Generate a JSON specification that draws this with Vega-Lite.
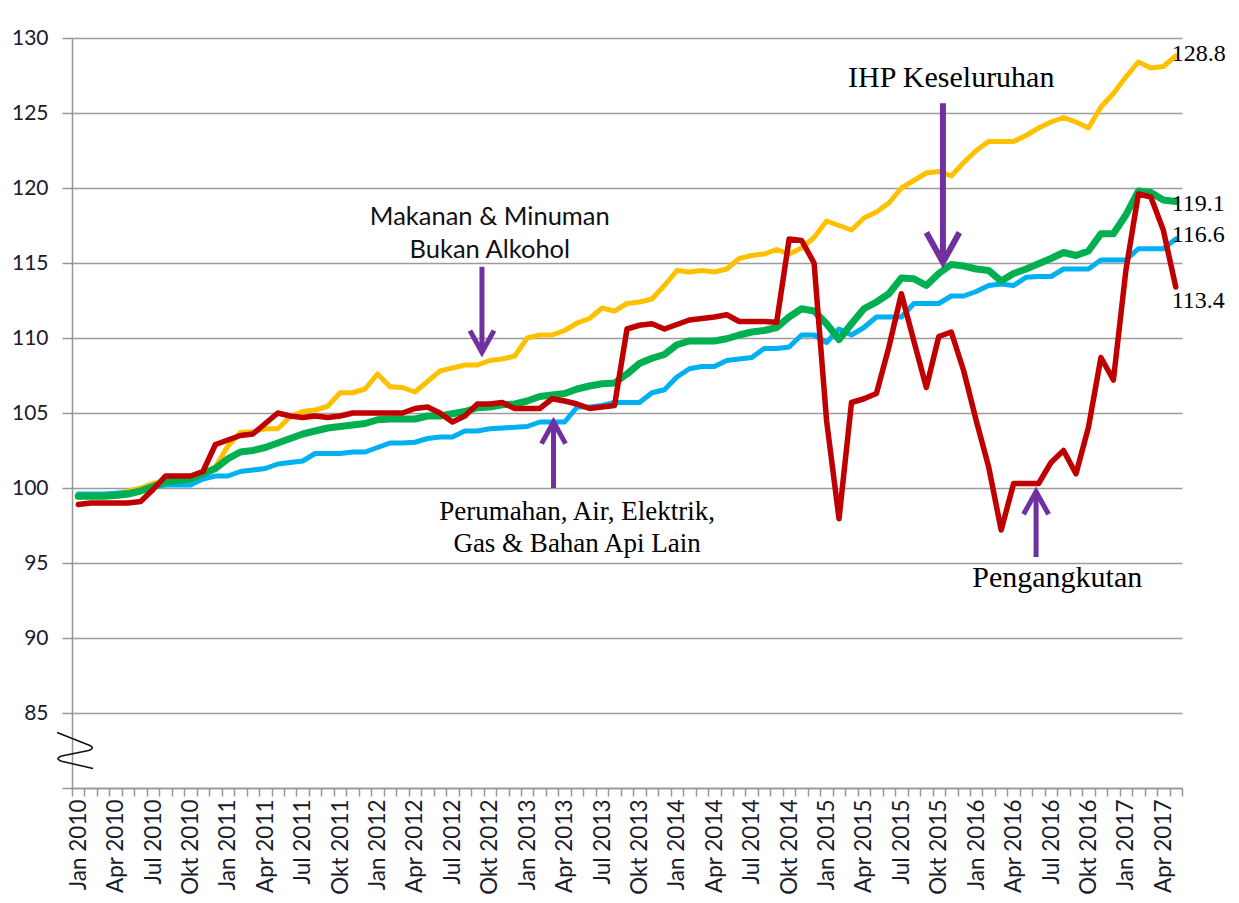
{
  "$schema": "https://vega.github.io/schema/vega-lite/v6.json",
  "width": 1110,
  "height": 750,
  "autosize": {"type": "none"},
  "padding": {"left": 72, "top": 38, "right": 57, "bottom": 115},
  "background": "white",
  "config": {
    "view": {"stroke": null},
    "font": "Lato",
    "line": {"strokeJoin": "round", "strokeCap": "round"}
  },
  "datasets": {
    "ipc": [
      {"month":"Jan 2010","makanan":99.4,"perumahan":99.6,"ihp":99.45,"pengangkutan":98.9},
      {"month":"Feb 2010","makanan":99.5,"perumahan":99.6,"ihp":99.45,"pengangkutan":99.0},
      {"month":"Mac 2010","makanan":99.5,"perumahan":99.6,"ihp":99.45,"pengangkutan":99.0},
      {"month":"Apr 2010","makanan":99.6,"perumahan":99.65,"ihp":99.5,"pengangkutan":99.0},
      {"month":"Mei 2010","makanan":99.8,"perumahan":99.7,"ihp":99.6,"pengangkutan":99.0},
      {"month":"Jun 2010","makanan":100.0,"perumahan":99.8,"ihp":99.8,"pengangkutan":99.1},
      {"month":"Jul 2010","makanan":100.3,"perumahan":100.05,"ihp":100.1,"pengangkutan":99.9},
      {"month":"Ogo 2010","makanan":100.5,"perumahan":100.2,"ihp":100.4,"pengangkutan":100.8},
      {"month":"Sep 2010","makanan":100.6,"perumahan":100.2,"ihp":100.5,"pengangkutan":100.8},
      {"month":"Okt 2010","makanan":100.7,"perumahan":100.2,"ihp":100.6,"pengangkutan":100.8},
      {"month":"Nov 2010","makanan":101.0,"perumahan":100.6,"ihp":100.95,"pengangkutan":101.1},
      {"month":"Dis 2010","makanan":101.4,"perumahan":100.8,"ihp":101.3,"pengangkutan":102.9},
      {"month":"Jan 2011","makanan":102.8,"perumahan":100.8,"ihp":101.95,"pengangkutan":103.2},
      {"month":"Feb 2011","makanan":103.7,"perumahan":101.1,"ihp":102.4,"pengangkutan":103.5},
      {"month":"Mac 2011","makanan":103.75,"perumahan":101.2,"ihp":102.5,"pengangkutan":103.6},
      {"month":"Apr 2011","makanan":103.95,"perumahan":101.3,"ihp":102.7,"pengangkutan":104.3},
      {"month":"Mei 2011","makanan":103.95,"perumahan":101.6,"ihp":103.0,"pengangkutan":105.0},
      {"month":"Jun 2011","makanan":104.75,"perumahan":101.7,"ihp":103.3,"pengangkutan":104.8},
      {"month":"Jul 2011","makanan":105.1,"perumahan":101.8,"ihp":103.6,"pengangkutan":104.7},
      {"month":"Ogo 2011","makanan":105.2,"perumahan":102.3,"ihp":103.8,"pengangkutan":104.8},
      {"month":"Sep 2011","makanan":105.45,"perumahan":102.3,"ihp":104.0,"pengangkutan":104.7},
      {"month":"Okt 2011","makanan":106.35,"perumahan":102.3,"ihp":104.1,"pengangkutan":104.8},
      {"month":"Nov 2011","makanan":106.35,"perumahan":102.4,"ihp":104.2,"pengangkutan":105.0},
      {"month":"Dis 2011","makanan":106.6,"perumahan":102.4,"ihp":104.3,"pengangkutan":105.0},
      {"month":"Jan 2012","makanan":107.6,"perumahan":102.7,"ihp":104.55,"pengangkutan":105.0},
      {"month":"Feb 2012","makanan":106.75,"perumahan":103.0,"ihp":104.6,"pengangkutan":105.0},
      {"month":"Mac 2012","makanan":106.7,"perumahan":103.0,"ihp":104.6,"pengangkutan":105.0},
      {"month":"Apr 2012","makanan":106.4,"perumahan":103.05,"ihp":104.6,"pengangkutan":105.3},
      {"month":"Mei 2012","makanan":107.1,"perumahan":103.3,"ihp":104.8,"pengangkutan":105.4},
      {"month":"Jun 2012","makanan":107.8,"perumahan":103.4,"ihp":104.8,"pengangkutan":105.0},
      {"month":"Jul 2012","makanan":108.0,"perumahan":103.4,"ihp":104.95,"pengangkutan":104.4},
      {"month":"Ogo 2012","makanan":108.2,"perumahan":103.8,"ihp":105.1,"pengangkutan":104.8},
      {"month":"Sep 2012","makanan":108.2,"perumahan":103.8,"ihp":105.35,"pengangkutan":105.6},
      {"month":"Okt 2012","makanan":108.5,"perumahan":103.95,"ihp":105.4,"pengangkutan":105.6},
      {"month":"Nov 2012","makanan":108.6,"perumahan":104.0,"ihp":105.55,"pengangkutan":105.7},
      {"month":"Dis 2012","makanan":108.8,"perumahan":104.05,"ihp":105.6,"pengangkutan":105.3},
      {"month":"Jan 2013","makanan":110.0,"perumahan":104.1,"ihp":105.8,"pengangkutan":105.3},
      {"month":"Feb 2013","makanan":110.2,"perumahan":104.4,"ihp":106.1,"pengangkutan":105.3},
      {"month":"Mac 2013","makanan":110.2,"perumahan":104.4,"ihp":106.2,"pengangkutan":105.95},
      {"month":"Apr 2013","makanan":110.5,"perumahan":104.4,"ihp":106.3,"pengangkutan":105.8},
      {"month":"Mei 2013","makanan":111.0,"perumahan":105.4,"ihp":106.6,"pengangkutan":105.6},
      {"month":"Jun 2013","makanan":111.3,"perumahan":105.4,"ihp":106.8,"pengangkutan":105.3},
      {"month":"Jul 2013","makanan":112.0,"perumahan":105.5,"ihp":106.95,"pengangkutan":105.4},
      {"month":"Ogo 2013","makanan":111.8,"perumahan":105.7,"ihp":107.0,"pengangkutan":105.5},
      {"month":"Sep 2013","makanan":112.3,"perumahan":105.7,"ihp":107.6,"pengangkutan":110.6},
      {"month":"Okt 2013","makanan":112.4,"perumahan":105.7,"ihp":108.3,"pengangkutan":110.85},
      {"month":"Nov 2013","makanan":112.6,"perumahan":106.35,"ihp":108.65,"pengangkutan":110.95},
      {"month":"Dis 2013","makanan":113.5,"perumahan":106.55,"ihp":108.9,"pengangkutan":110.6},
      {"month":"Jan 2014","makanan":114.5,"perumahan":107.4,"ihp":109.55,"pengangkutan":110.9},
      {"month":"Feb 2014","makanan":114.4,"perumahan":107.95,"ihp":109.8,"pengangkutan":111.2},
      {"month":"Mac 2014","makanan":114.5,"perumahan":108.1,"ihp":109.8,"pengangkutan":111.3},
      {"month":"Apr 2014","makanan":114.4,"perumahan":108.1,"ihp":109.8,"pengangkutan":111.4},
      {"month":"Mei 2014","makanan":114.6,"perumahan":108.5,"ihp":109.95,"pengangkutan":111.55},
      {"month":"Jun 2014","makanan":115.3,"perumahan":108.6,"ihp":110.2,"pengangkutan":111.1},
      {"month":"Jul 2014","makanan":115.5,"perumahan":108.7,"ihp":110.4,"pengangkutan":111.1},
      {"month":"Ogo 2014","makanan":115.6,"perumahan":109.3,"ihp":110.5,"pengangkutan":111.1},
      {"month":"Sep 2014","makanan":115.9,"perumahan":109.3,"ihp":110.7,"pengangkutan":111.05},
      {"month":"Okt 2014","makanan":115.6,"perumahan":109.4,"ihp":111.4,"pengangkutan":116.6},
      {"month":"Nov 2014","makanan":116.0,"perumahan":110.2,"ihp":111.95,"pengangkutan":116.5},
      {"month":"Dis 2014","makanan":116.7,"perumahan":110.2,"ihp":111.8,"pengangkutan":115.0},
      {"month":"Jan 2015","makanan":117.8,"perumahan":109.7,"ihp":110.95,"pengangkutan":104.5},
      {"month":"Feb 2015","makanan":117.5,"perumahan":110.6,"ihp":109.9,"pengangkutan":97.95},
      {"month":"Mac 2015","makanan":117.2,"perumahan":110.2,"ihp":110.95,"pengangkutan":105.7},
      {"month":"Apr 2015","makanan":118.0,"perumahan":110.7,"ihp":111.95,"pengangkutan":105.95},
      {"month":"Mei 2015","makanan":118.4,"perumahan":111.4,"ihp":112.4,"pengangkutan":106.3},
      {"month":"Jun 2015","makanan":119.0,"perumahan":111.4,"ihp":112.95,"pengangkutan":109.4},
      {"month":"Jul 2015","makanan":120.0,"perumahan":111.4,"ihp":114.0,"pengangkutan":112.95},
      {"month":"Ogo 2015","makanan":120.5,"perumahan":112.3,"ihp":113.95,"pengangkutan":109.8},
      {"month":"Sep 2015","makanan":121.0,"perumahan":112.3,"ihp":113.5,"pengangkutan":106.7},
      {"month":"Okt 2015","makanan":121.1,"perumahan":112.3,"ihp":114.3,"pengangkutan":110.1},
      {"month":"Nov 2015","makanan":120.8,"perumahan":112.8,"ihp":114.9,"pengangkutan":110.4},
      {"month":"Dis 2015","makanan":121.7,"perumahan":112.8,"ihp":114.8,"pengangkutan":107.8},
      {"month":"Jan 2016","makanan":122.5,"perumahan":113.1,"ihp":114.6,"pengangkutan":104.5},
      {"month":"Feb 2016","makanan":123.1,"perumahan":113.5,"ihp":114.5,"pengangkutan":101.4},
      {"month":"Mac 2016","makanan":123.1,"perumahan":113.6,"ihp":113.8,"pengangkutan":97.2},
      {"month":"Apr 2016","makanan":123.1,"perumahan":113.5,"ihp":114.3,"pengangkutan":100.3},
      {"month":"Mei 2016","makanan":123.5,"perumahan":114.05,"ihp":114.6,"pengangkutan":100.3},
      {"month":"Jun 2016","makanan":124.0,"perumahan":114.1,"ihp":114.95,"pengangkutan":100.3},
      {"month":"Jul 2016","makanan":124.4,"perumahan":114.1,"ihp":115.3,"pengangkutan":101.7},
      {"month":"Ogo 2016","makanan":124.7,"perumahan":114.6,"ihp":115.7,"pengangkutan":102.5},
      {"month":"Sep 2016","makanan":124.4,"perumahan":114.6,"ihp":115.5,"pengangkutan":100.95},
      {"month":"Okt 2016","makanan":124.0,"perumahan":114.6,"ihp":115.8,"pengangkutan":104.05},
      {"month":"Nov 2016","makanan":125.4,"perumahan":115.2,"ihp":116.95,"pengangkutan":108.7},
      {"month":"Dis 2016","makanan":126.3,"perumahan":115.2,"ihp":116.95,"pengangkutan":107.2},
      {"month":"Jan 2017","makanan":127.4,"perumahan":115.2,"ihp":118.2,"pengangkutan":114.5},
      {"month":"Feb 2017","makanan":128.4,"perumahan":115.95,"ihp":119.8,"pengangkutan":119.6},
      {"month":"Mac 2017","makanan":128.0,"perumahan":115.95,"ihp":119.7,"pengangkutan":119.4},
      {"month":"Apr 2017","makanan":128.1,"perumahan":115.95,"ihp":119.2,"pengangkutan":117.2},
      {"month":"Mei 2017","makanan":128.8,"perumahan":116.6,"ihp":119.1,"pengangkutan":113.4}
    ],
    "arrows": [
      {"arrow":"makanan","month":"Sep 2012","from":114.75,"to":109.05},
      {"arrow":"ihp","month":"Okt 2015","from":125.65,"to":115.05},
      {"arrow":"perumahan","month":"Mac 2013","from":100.0,"to":104.4},
      {"arrow":"pengangkutan","month":"Jun 2016","from":95.4,"to":99.75}
    ],
    "notes": [
      {"group":"ihp","month":"Nov 2015","value":127.35,"text":"IHP Keseluruhan"},
      {"group":"makanan","month":"Okt 2012","value":118.05,"text":"Makanan & Minuman"},
      {"group":"makanan","month":"Okt 2012","value":115.85,"text":"Bukan Alkohol"},
      {"group":"perumahan","month":"Mei 2013","value":98.4,"text":"Perumahan, Air, Elektrik,"},
      {"group":"perumahan","month":"Mei 2013","value":96.3,"text":"Gas & Bahan Api Lain"},
      {"group":"pengangkutan","month":"Jul 2016","value":94.0,"text":"Pengangkutan"}
    ],
    "ends": [
      {"month":"Mei 2017","value":128.95,"text":"128.8"},
      {"month":"Mei 2017","value":118.95,"text":"119.1"},
      {"month":"Mei 2017","value":116.85,"text":"116.6"},
      {"month":"Mei 2017","value":112.5,"text":"113.4"}
    ],
    "brk": [
      {"month":"Jan 2010","value":82.5}
    ]
  },
  "encoding": {
    "x": {
      "field": "month",
      "type": "ordinal",
      "title": null,
      "scale": {
        "type": "band",
        "paddingInner": 0,
        "paddingOuter": 0,
        "domain": ["Jan 2010","Feb 2010","Mac 2010","Apr 2010","Mei 2010","Jun 2010","Jul 2010","Ogo 2010","Sep 2010","Okt 2010","Nov 2010","Dis 2010",
                   "Jan 2011","Feb 2011","Mac 2011","Apr 2011","Mei 2011","Jun 2011","Jul 2011","Ogo 2011","Sep 2011","Okt 2011","Nov 2011","Dis 2011",
                   "Jan 2012","Feb 2012","Mac 2012","Apr 2012","Mei 2012","Jun 2012","Jul 2012","Ogo 2012","Sep 2012","Okt 2012","Nov 2012","Dis 2012",
                   "Jan 2013","Feb 2013","Mac 2013","Apr 2013","Mei 2013","Jun 2013","Jul 2013","Ogo 2013","Sep 2013","Okt 2013","Nov 2013","Dis 2013",
                   "Jan 2014","Feb 2014","Mac 2014","Apr 2014","Mei 2014","Jun 2014","Jul 2014","Ogo 2014","Sep 2014","Okt 2014","Nov 2014","Dis 2014",
                   "Jan 2015","Feb 2015","Mac 2015","Apr 2015","Mei 2015","Jun 2015","Jul 2015","Ogo 2015","Sep 2015","Okt 2015","Nov 2015","Dis 2015",
                   "Jan 2016","Feb 2016","Mac 2016","Apr 2016","Mei 2016","Jun 2016","Jul 2016","Ogo 2016","Sep 2016","Okt 2016","Nov 2016","Dis 2016",
                   "Jan 2017","Feb 2017","Mac 2017","Apr 2017","Mei 2017"]
      },
      "axis": {
        "title": null,
        "tickBand": "extent",
        "labelAngle": -90,
        "labelExpr": "isString(datum.value) ? (indexof(['Jan','Apr','Jul','Okt'], substring(datum.value,0,3)) >= 0 ? datum.value : '') : ''",
        "labelOverlap": false,
        "labelFont": "Lato",
        "labelFontSize": 22.5,
        "labelColor": "#1b1b2b",
        "labelPadding": 3,
        "tickColor": "#969696",
        "tickSize": 8,
        "tickWidth": 1.5,
        "domainColor": "#969696",
        "domainWidth": 1.5,
        "grid": false
      }
    }
  },
  "layer": [
    {
      "data": {"name": "ipc"},
      "mark": {"type": "line", "color": "#FFC000", "strokeWidth": 5},
      "encoding": {
        "y": {
          "field": "makanan",
          "type": "quantitative",
          "title": null,
          "scale": {"domain": [80, 130], "nice": false, "zero": false},
          "axis": {
            "title": null,
            "values": [80, 85, 90, 95, 100, 105, 110, 115, 120, 125, 130],
            "labelExpr": "datum.value == 80 ? '' : datum.label",
            "grid": true,
            "gridColor": "#9c9c9c",
            "gridWidth": 1.5,
            "tickColor": "#969696",
            "tickSize": 10,
            "tickWidth": 1.5,
            "domainColor": "#969696",
            "domainWidth": 1.5,
            "labelFont": "Lato",
            "labelFontSize": 21,
            "labelColor": "#1b1b2b",
            "labelPadding": 14
          }
        }
      }
    },
    {
      "data": {"name": "ipc"},
      "mark": {"type": "line", "color": "#00B0F0", "strokeWidth": 5},
      "encoding": {"y": {"field": "perumahan", "type": "quantitative", "title": null}}
    },
    {
      "data": {"name": "ipc"},
      "mark": {"type": "line", "color": "#00B050", "strokeWidth": 7},
      "encoding": {"y": {"field": "ihp", "type": "quantitative", "title": null}}
    },
    {
      "data": {"name": "ipc"},
      "mark": {"type": "line", "color": "#C00000", "strokeWidth": 5.5},
      "encoding": {"y": {"field": "pengangkutan", "type": "quantitative", "title": null}}
    },
    {
      "data": {"name": "arrows"},
      "transform": [{"filter": "datum.arrow === 'makanan'"}],
      "encoding": {"x": {"field": "month", "type": "ordinal", "bandPosition": 0.87}},
      "layer": [
        {"mark": {"type": "rule", "color": "#7030A0", "strokeWidth": 5},
         "encoding": {"y": {"field": "from", "type": "quantitative", "title": null}, "y2": {"field": "to"}}},
        {"mark": {"type": "point", "shape": "M-1,-1.8L0,0L1,-1.8", "size": 576, "filled": false, "stroke": "#7030A0", "strokeWidth": 5, "opacity": 1},
         "encoding": {"y": {"field": "to", "type": "quantitative", "title": null}}}
      ]
    },
    {
      "data": {"name": "arrows"},
      "transform": [{"filter": "datum.arrow === 'ihp'"}],
      "encoding": {"x": {"field": "month", "type": "ordinal", "bandPosition": 0.83}},
      "layer": [
        {"mark": {"type": "rule", "color": "#7030A0", "strokeWidth": 6},
         "encoding": {"y": {"field": "from", "type": "quantitative", "title": null}, "y2": {"field": "to"}}},
        {"mark": {"type": "point", "shape": "M-1,-1.8L0,0L1,-1.8", "size": 1089, "filled": false, "stroke": "#7030A0", "strokeWidth": 6, "opacity": 1},
         "encoding": {"y": {"field": "to", "type": "quantitative", "title": null}}}
      ]
    },
    {
      "data": {"name": "arrows"},
      "transform": [{"filter": "datum.arrow === 'perumahan'"}],
      "encoding": {"x": {"field": "month", "type": "ordinal", "bandPosition": 0.61}},
      "layer": [
        {"mark": {"type": "rule", "color": "#7030A0", "strokeWidth": 5},
         "encoding": {"y": {"field": "from", "type": "quantitative", "title": null}, "y2": {"field": "to"}}},
        {"mark": {"type": "point", "shape": "M-1,1.8L0,0L1,1.8", "size": 576, "filled": false, "stroke": "#7030A0", "strokeWidth": 5, "opacity": 1},
         "encoding": {"y": {"field": "to", "type": "quantitative", "title": null}}}
      ]
    },
    {
      "data": {"name": "arrows"},
      "transform": [{"filter": "datum.arrow === 'pengangkutan'"}],
      "encoding": {"x": {"field": "month", "type": "ordinal", "bandPosition": 0.3}},
      "layer": [
        {"mark": {"type": "rule", "color": "#7030A0", "strokeWidth": 5},
         "encoding": {"y": {"field": "from", "type": "quantitative", "title": null}, "y2": {"field": "to"}}},
        {"mark": {"type": "point", "shape": "M-1,1.8L0,0L1,1.8", "size": 625, "filled": false, "stroke": "#7030A0", "strokeWidth": 5, "opacity": 1},
         "encoding": {"y": {"field": "to", "type": "quantitative", "title": null}}}
      ]
    },
    {
      "data": {"name": "notes"},
      "transform": [{"filter": "datum.group === 'ihp'"}],
      "mark": {"type": "text", "font": "Liberation Serif", "fontSize": 30, "color": "#000000", "align": "center", "baseline": "middle"},
      "encoding": {
        "y": {"field": "value", "type": "quantitative", "title": null},
        "text": {"field": "text"}
      }
    },
    {
      "data": {"name": "notes"},
      "transform": [{"filter": "datum.group === 'pengangkutan'"}],
      "mark": {"type": "text", "font": "Liberation Serif", "fontSize": 30, "color": "#000000", "align": "center", "baseline": "middle"},
      "encoding": {
        "x": {"field": "month", "type": "ordinal", "bandPosition": 1},
        "y": {"field": "value", "type": "quantitative", "title": null},
        "text": {"field": "text"}
      }
    },
    {
      "data": {"name": "notes"},
      "transform": [{"filter": "datum.group === 'perumahan'"}],
      "mark": {"type": "text", "font": "Liberation Serif", "fontSize": 27, "color": "#000000", "align": "center", "baseline": "middle"},
      "encoding": {
        "y": {"field": "value", "type": "quantitative", "title": null},
        "text": {"field": "text"}
      }
    },
    {
      "data": {"name": "notes"},
      "transform": [{"filter": "datum.group === 'makanan'"}],
      "mark": {"type": "text", "font": "Lato", "fontSize": 25.5, "color": "#111111", "align": "center", "baseline": "middle"},
      "encoding": {
        "y": {"field": "value", "type": "quantitative", "title": null},
        "text": {"field": "text"}
      }
    },
    {
      "data": {"name": "ends"},
      "mark": {"type": "text", "font": "Liberation Serif", "fontSize": 24, "color": "#000000", "align": "left", "baseline": "middle", "dx": -4},
      "encoding": {
        "y": {"field": "value", "type": "quantitative", "title": null},
        "text": {"field": "text"}
      }
    },
    {
      "data": {"name": "brk"},
      "mark": {"type": "point", "shape": "M-1,-1 L0.75,-0.3 Q1.15,-0.15 0.75,0 L-0.75,0.3 Q-1.15,0.45 -0.75,0.6 L1,1", "size": 1296, "filled": false, "stroke": "#111111", "strokeWidth": 1.6, "opacity": 1},
      "encoding": {
        "x": {"field": "month", "type": "ordinal", "bandPosition": 0.25},
        "y": {"field": "value", "type": "quantitative", "title": null}
      }
    }
  ]
}
